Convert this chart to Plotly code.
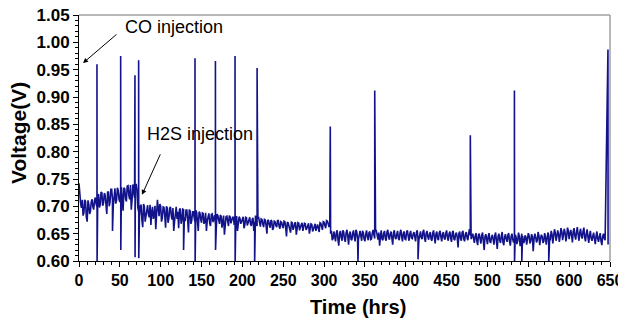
import plotly.graph_objects as go

# Voltage readings at even hours t = 0, 2, ..., 644
even_voltage = [
    0.742, 0.705, 0.712, 0.688, 0.709, 0.672, 0.704, 0.691, 0.713, 0.694,
    0.716, 0.699, 0.722, 0.703, 0.725, 0.706, 0.721, 0.686, 0.727, 0.708,
    0.731, 0.702, 0.733, 0.711, 0.729, 0.708, 0.735, 0.692, 0.732, 0.709,
    0.738, 0.713, 0.694, 0.740, 0.716, 0.741,
    0.698, 0.681, 0.703, 0.662, 0.700, 0.684, 0.702, 0.680, 0.666, 0.699,
    0.683, 0.658, 0.712, 0.682, 0.700, 0.679, 0.698, 0.661, 0.697, 0.678,
    0.699, 0.676, 0.655, 0.695, 0.677, 0.660, 0.696, 0.675, 0.694, 0.673,
    0.693, 0.652, 0.692, 0.674, 0.690, 0.671, 0.689, 0.655, 0.688, 0.670,
    0.687, 0.672, 0.655, 0.686, 0.669, 0.685, 0.671, 0.684, 0.658, 0.683,
    0.668, 0.682, 0.670, 0.648, 0.681, 0.667, 0.683, 0.669, 0.680, 0.666,
    0.679, 0.655, 0.681, 0.668, 0.678, 0.660, 0.680, 0.665, 0.677, 0.667,
    0.676, 0.655, 0.683, 0.664, 0.679, 0.663, 0.676, 0.662, 0.675, 0.650,
    0.674, 0.661, 0.673, 0.660, 0.672, 0.662, 0.674, 0.659, 0.671, 0.660,
    0.672, 0.645, 0.670, 0.658, 0.671, 0.657, 0.669, 0.648, 0.670, 0.656,
    0.668, 0.655, 0.669, 0.657, 0.667, 0.650, 0.668, 0.654, 0.666, 0.655,
    0.667, 0.653, 0.669, 0.657, 0.671, 0.660, 0.673, 0.662, 0.650, 0.638,
    0.654, 0.636, 0.656, 0.628, 0.655, 0.637, 0.653, 0.635, 0.657, 0.630,
    0.654, 0.638, 0.656, 0.636, 0.653, 0.639, 0.655, 0.637, 0.652, 0.636,
    0.656, 0.638, 0.654, 0.640, 0.657, 0.641, 0.655, 0.639, 0.628, 0.656,
    0.638, 0.655, 0.637, 0.657, 0.639, 0.654, 0.630, 0.656, 0.640, 0.655,
    0.638, 0.657, 0.636, 0.654, 0.639, 0.656, 0.637, 0.655, 0.641, 0.653,
    0.636, 0.656, 0.638, 0.654, 0.640, 0.657, 0.635, 0.655, 0.639, 0.653,
    0.637, 0.656, 0.632, 0.654, 0.638, 0.655, 0.636, 0.653, 0.639, 0.656,
    0.637, 0.654, 0.635, 0.655, 0.638, 0.652, 0.625, 0.654, 0.637, 0.655,
    0.636, 0.653, 0.638, 0.658, 0.640, 0.650, 0.633, 0.651, 0.629, 0.650,
    0.632, 0.652, 0.620, 0.649, 0.631, 0.651, 0.634, 0.648, 0.630, 0.652,
    0.622, 0.650, 0.633, 0.653, 0.629, 0.649, 0.635, 0.651, 0.628, 0.650,
    0.634, 0.648, 0.631, 0.652, 0.627, 0.650, 0.633, 0.647, 0.630, 0.651,
    0.632, 0.649, 0.618, 0.650, 0.634, 0.653, 0.629, 0.648, 0.633, 0.651,
    0.630, 0.652, 0.636, 0.655, 0.632, 0.658, 0.637, 0.656, 0.635, 0.660,
    0.638, 0.659, 0.636, 0.661, 0.640, 0.657, 0.634, 0.660, 0.639, 0.662,
    0.637, 0.659, 0.641, 0.661, 0.636, 0.658, 0.633, 0.655, 0.637, 0.652,
    0.631, 0.654, 0.635, 0.651, 0.629, 0.650, 0.638,
]

# Voltage readings at odd hours t = 1, 3, ..., 643
odd_voltage = [
    0.718, 0.697, 0.683, 0.712, 0.680, 0.711, 0.686, 0.708, 0.699, 0.711,
    0.704, 0.720, 0.698, 0.726, 0.701, 0.724, 0.709, 0.726, 0.700, 0.731,
    0.712, 0.730, 0.705, 0.734, 0.713, 0.728, 0.709, 0.734, 0.714, 0.737,
    0.720, 0.739, 0.712, 0.728, 0.738, 0.730,
    0.690, 0.700, 0.675, 0.704, 0.672, 0.698, 0.685, 0.703, 0.690, 0.677,
    0.701, 0.686, 0.697, 0.704, 0.672, 0.699, 0.683, 0.700, 0.670, 0.697,
    0.682, 0.697, 0.673, 0.699, 0.690, 0.694, 0.668, 0.695, 0.680, 0.693,
    0.676, 0.694, 0.668, 0.690, 0.679, 0.693, 0.670, 0.690, 0.676, 0.688,
    0.668, 0.688, 0.674, 0.687, 0.664, 0.686, 0.677, 0.668, 0.686, 0.670,
    0.684, 0.661, 0.683, 0.673, 0.682, 0.664, 0.681, 0.674, 0.680, 0.668,
    0.682, 0.670, 0.678, 0.672, 0.681, 0.666, 0.679, 0.671, 0.680, 0.664,
    0.679, 0.672, 0.668, 0.678, 0.670, 0.677, 0.667, 0.676, 0.665, 0.675,
    0.666, 0.675, 0.657, 0.673, 0.665, 0.674, 0.663, 0.672, 0.664, 0.673,
    0.662, 0.671, 0.664, 0.652, 0.670, 0.661, 0.671, 0.660, 0.669, 0.662,
    0.670, 0.661, 0.668, 0.660, 0.669, 0.662, 0.667, 0.658, 0.668, 0.661,
    0.660, 0.670, 0.663, 0.672, 0.665, 0.674, 0.668, 0.670, 0.655, 0.641,
    0.647, 0.652, 0.639, 0.651, 0.643, 0.656, 0.640, 0.652, 0.645, 0.649,
    0.640, 0.651, 0.644, 0.657, 0.641, 0.650, 0.646, 0.655, 0.640, 0.649,
    0.644, 0.652, 0.639, 0.651, 0.648, 0.658, 0.643, 0.652, 0.645, 0.640,
    0.651, 0.641, 0.653, 0.644, 0.650, 0.642, 0.652, 0.643, 0.649, 0.641,
    0.652, 0.644, 0.651, 0.640, 0.653, 0.645, 0.650, 0.642, 0.649, 0.644,
    0.652, 0.641, 0.650, 0.643, 0.653, 0.642, 0.651, 0.644, 0.649, 0.640,
    0.651, 0.643, 0.650, 0.641, 0.652, 0.644, 0.649, 0.642, 0.651, 0.643,
    0.650, 0.642, 0.652, 0.640, 0.649, 0.643, 0.650, 0.641, 0.652, 0.640,
    0.649, 0.643, 0.651, 0.647, 0.648, 0.641, 0.646, 0.637, 0.648, 0.640,
    0.647, 0.636, 0.645, 0.640, 0.646, 0.635, 0.644, 0.639, 0.647, 0.636,
    0.645, 0.638, 0.646, 0.634, 0.644, 0.640, 0.647, 0.636, 0.645, 0.639,
    0.640, 0.644, 0.637, 0.645, 0.641, 0.646, 0.635, 0.644, 0.640, 0.646,
    0.637, 0.645, 0.640, 0.644, 0.638, 0.646, 0.641, 0.645, 0.636, 0.644,
    0.641, 0.647, 0.640, 0.649, 0.643, 0.652, 0.645, 0.650, 0.646, 0.654,
    0.648, 0.652, 0.645, 0.655, 0.650, 0.647, 0.654, 0.646, 0.653, 0.648,
    0.652, 0.645, 0.654, 0.643, 0.650, 0.644, 0.648, 0.641, 0.646, 0.640,
    0.646, 0.640, 0.645, 0.637, 0.644, 0.641,
]

# Upward spikes (gas injections) with optional downward trough right after
spike_hours = [22, 51, 68.5, 73, 142, 167, 191, 218, 307.6, 362, 479, 533, 647.5]
spike_peaks = [0.960, 0.975, 0.940, 0.967, 0.971, 0.966, 0.975, 0.953, 0.846, 0.912, 0.830, 0.912, 0.987]
spike_troughs = [0.598, 0.620, 0.607, 0.605, 0.598, 0.620, 0.598, None, None, None, None, 0.598, 0.630]

# Downward-only dips
dip_hours = [41, 128, 215, 341.5, 415, 542, 575]
dip_values = [0.655, 0.620, 0.598, 0.598, 0.603, 0.598, 0.598]

x_ticks = [0, 50, 100, 150, 200, 250, 300, 350, 400, 450, 500, 550, 600, 650]
y_ticks = [0.60, 0.65, 0.70, 0.75, 0.80, 0.85, 0.90, 0.95, 1.00, 1.05]

# Merge everything into one time-ordered series
points = [(2 * i, v) for i, v in enumerate(even_voltage)]
points += [(2 * i + 1, v) for i, v in enumerate(odd_voltage)]
for h, p, tr in zip(spike_hours, spike_peaks, spike_troughs):
    points.append((h, p))
    if tr is not None:
        points.append((h + 0.15, tr))
for h, v in zip(dip_hours, dip_values):
    points.append((h, v))
points.sort(key=lambda q: q[0])
time = [q[0] for q in points]
volt = [q[1] for q in points]

fig = go.Figure()
fig.add_trace(go.Scatter(x=time, y=volt, mode="lines",
                         line=dict(color="#12128a", width=1.6),
                         showlegend=False))

tick_font = dict(family="Liberation Sans, Arial, sans-serif", size=16, color="black")
fig.update_layout(
    template="none",
    width=618, height=316,
    margin=dict(l=71, r=16, t=7, b=63, autoexpand=False),
    paper_bgcolor="white", plot_bgcolor="white",
    font=dict(family="Liberation Sans, Arial, sans-serif", color="black"),
    xaxis=dict(range=[0, 650], tickvals=x_ticks, ticktext=[f"<b>{v}</b>" for v in x_ticks],
               showline=True, linecolor="black", linewidth=1, ticks="outside", ticklen=5,
               tickcolor="black", tickfont=tick_font, showgrid=False, zeroline=False,
               automargin=False, ticklabeloverflow="allow",
               minor=dict(dtick=10, ticks="outside", ticklen=3, tickcolor="black", showgrid=False)),
    yaxis=dict(range=[0.60, 1.05], tickvals=y_ticks, ticktext=[f"<b>{v:.2f}</b>" for v in y_ticks],
               showline=True, linecolor="black", linewidth=1, ticks="outside", ticklen=5,
               tickcolor="black", tickfont=dict(tick_font, size=17), showgrid=False, zeroline=False,
               automargin=False, ticklabeloverflow="allow",
               minor=dict(dtick=0.01, ticks="outside", ticklen=3, tickcolor="black", showgrid=False)),
)

# grey top and right frame
fig.add_shape(type="line", xref="paper", yref="paper", x0=0, x1=1, y0=1, y1=1,
              line=dict(color="#a0a0a0", width=1.5))
fig.add_shape(type="line", xref="paper", yref="paper", x0=1, x1=1, y0=0, y1=1,
              line=dict(color="#a0a0a0", width=1.5))

ann_font = dict(family="Liberation Sans, Arial, sans-serif", size=18, color="black")
fig.add_annotation(x=53.9, y=1.028, text="CO injection", showarrow=False,
                   xanchor="left", yanchor="middle", font=ann_font)
fig.add_annotation(x=4.9, y=0.962, text="", showarrow=True, ax=35, ay=-30,
                   arrowhead=2, arrowsize=1, arrowwidth=1, arrowcolor="black")
fig.add_annotation(x=80.8, y=0.833, text="H2S injection", showarrow=False,
                   xanchor="left", yanchor="middle", font=ann_font)
fig.add_annotation(x=77.1, y=0.721, text="", showarrow=True, ax=19, ay=-42,
                   arrowhead=2, arrowsize=1, arrowwidth=1, arrowcolor="black")

# axis titles
fig.add_annotation(xref="paper", yref="paper", x=0.525, y=-0.185, text="<b>Time (hrs)</b>",
                   showarrow=False, xanchor="center", yanchor="middle",
                   font=dict(family="Liberation Sans, Arial, sans-serif", size=20, color="black"))
fig.add_annotation(xref="paper", yref="paper", x=-0.115, y=0.52, text="<b>Voltage(V)</b>",
                   showarrow=False, xanchor="center", yanchor="middle", textangle=-90,
                   font=dict(family="Liberation Sans, Arial, sans-serif", size=21, color="black"))

fig.write_html("out.html")
